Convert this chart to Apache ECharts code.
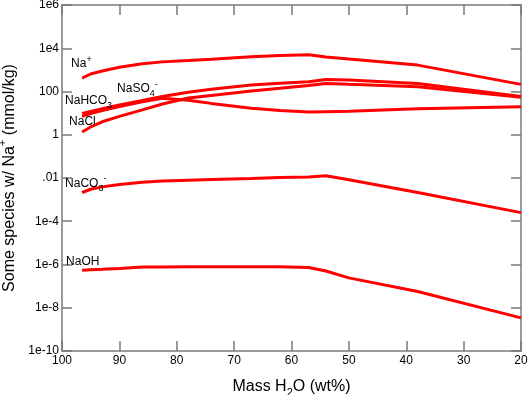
<!DOCTYPE html>
<html>
<head>
<meta charset="utf-8">
<script src="https://cdn.jsdelivr.net/npm/echarts@6/dist/echarts.min.js"></script>
<style>
  html, body { margin: 0; padding: 0; background: #fff; }
  #chart { width: 529px; height: 395px; }
</style>
</head>
<body>
<div id="chart"></div>
<script>
// mass of water (wt%), shared by all species
const massH2O = [96.5, 95, 93, 90, 86, 82.5, 78, 74, 67, 62, 57, 54, 50, 38, 20]

// species concentrations (mmol/kg)
const naPlus  = [417, 646, 891, 1318, 1905, 2344, 2692, 3090, 4074, 4677, 5012, 3981, 3162, 1660, 214]
const naSO4   = [9.55, 12, 15.8, 24, 38, 58.9, 93.3, 126, 200, 240, 282, 363, 339, 234, 58.9]
const naHCO3  = [7.08, 9.5, 13.2, 20, 33.1, 49, 39.8, 28.2, 17, 13.2, 11.2, 11.7, 12.3, 15.8, 19.5]
const naCl    = [1.35, 2.3, 3.98, 7.08, 14.1, 26.3, 50.1, 66.1, 105, 141, 191, 234, 214, 166, 53.7]
const naCO3   = [2.14e-3, 3.02e-3, 3.89e-3, 5.01e-3, 6.31e-3, 7.24e-3, 7.94e-3, 8.51e-3, 9.55e-3, 1.05e-2, 1.1e-2, 1.26e-2, 8.32e-3, 2.14e-3, 2.51e-4]
const naOH    = [5.37e-7, 5.7e-7, 6.03e-7, 6.61e-7, 7.59e-7, 7.76e-7, 7.94e-7, 7.94e-7, 7.94e-7, 7.94e-7, 7.24e-7, 5.01e-7, 2.4e-7, 5.62e-8, 3.39e-9]

const yTickLabels = ['1e-10', '1e-8', '1e-6', '1e-4', '.01', '1', '100', '1e4', '1e6']
const xTicks = [100, 90, 80, 70, 60, 50, 40, 30, 20]

const FONT = 'Liberation Sans, Arial, sans-serif'
const RED = '#ff0000'
const AXIS = '#7a7a7a'

const richText = {
  m: { fontSize: 12, fontFamily: FONT, color: '#000' },
  b: { fontSize: 9, fontFamily: FONT, color: '#000', padding: [10, 0, 0, 0] },
  p: { fontSize: 9, fontFamily: FONT, color: '#000', padding: [0, 0, 9, 0] }
}

// label text + offset from the first point of each curve
let makeSeries = (name, values, text, offset) => {
  return {
    name: name,
    type: 'line',
    data: massH2O.map((x, i) => [x, values[i]]),
    showSymbol: false,
    lineStyle: { color: RED, width: 3 },
    itemStyle: { color: RED },
    silent: true,
    markPoint: {
      symbol: 'circle',
      symbolSize: 0,
      silent: true,
      data: [{ coord: [massH2O[0], values[0]] }],
      label: {
        show: true,
        position: 'inside',
        offset: offset,
        align: 'left',
        verticalAlign: 'middle',
        formatter: text,
        rich: richText
      }
    }
  }
}

let axisCommonX = {
  type: 'value',
  min: 20,
  max: 100,
  interval: 10,
  inverse: true,
  splitLine: { show: false },
  axisLine: { show: true, lineStyle: { color: AXIS, width: 1.5 } },
  axisTick: { show: true, inside: true, length: 10, lineStyle: { color: AXIS, width: 1.5 } }
}
let axisCommonY = {
  type: 'log',
  logBase: 10,
  min: 1e-10,
  max: 1e6,
  interval: 2,
  splitLine: { show: false },
  axisLine: { show: true, lineStyle: { color: AXIS, width: 1.5 } },
  axisTick: { show: true, inside: true, length: 10, lineStyle: { color: AXIS, width: 1.5 } },
  minorTick: { show: false }
}

var option = {
  animation: false,
  backgroundColor: '#fff',
  grid: { left: 62, right: 8, top: 5, bottom: 44, containLabel: false, outerBoundsMode: 'none' },
  xAxis: [
    Object.assign({}, axisCommonX, {
      position: 'bottom',
      name: 'Mass H{b|2}O (wt%)',
      nameLocation: 'middle',
      nameGap: 24,
      nameTextStyle: {
        fontSize: 16,
        fontFamily: FONT,
        color: '#000',
        rich: {
          b: { fontSize: 11, fontFamily: FONT, color: '#000', padding: [12, 0, 0, 0] }
        }
      },
      axisLabel: {
        margin: 4,
        fontSize: 12,
        fontFamily: FONT,
        color: '#000',
        formatter: (v) => xTicks.indexOf(v) >= 0 ? String(v) : ''
      }
    }),
    Object.assign({}, axisCommonX, { position: 'top', axisLabel: { show: false } })
  ],
  yAxis: [
    Object.assign({}, axisCommonY, {
      position: 'left',
      name: 'Some species w/ Na{p|+} (mmol/kg)',
      nameLocation: 'middle',
      nameGap: 32,
      nameTextStyle: {
        fontSize: 16,
        fontFamily: FONT,
        color: '#000',
        rich: {
          p: { fontSize: 11, fontFamily: FONT, color: '#000', padding: [0, 0, 12, 0] }
        }
      },
      axisLabel: {
        margin: 3,
        fontSize: 12,
        fontFamily: FONT,
        color: '#000',
        formatter: (v) => {
          let k = (Math.round(Math.log10(v)) + 10) / 2
          return yTickLabels[k] || ''
        }
      }
    }),
    Object.assign({}, axisCommonY, { position: 'right', axisLabel: { show: false } })
  ],
  series: [
    makeSeries('Na+', naPlus, '{m|Na}{p|+}', [-11, -14]),
    makeSeries('NaSO4-', naSO4, '{m|NaSO}{b|4}{p|-}', [35, -25]),
    makeSeries('NaHCO3', naHCO3, '{m|NaHCO}{b|3}', [-17, -16]),
    makeSeries('NaCl', naCl, '{m|NaCl}', [-13, -10]),
    makeSeries('NaCO3-', naCO3, '{m|NaCO}{b|3}{p|-}', [-17, -9]),
    makeSeries('NaOH', naOH, '{m|NaOH}', [-16, -9])
  ]
}

let Echarts = echarts.init(document.getElementById('chart'), null, { renderer: 'canvas' })
Echarts.setOption(option)
</script>
</body>
</html>
